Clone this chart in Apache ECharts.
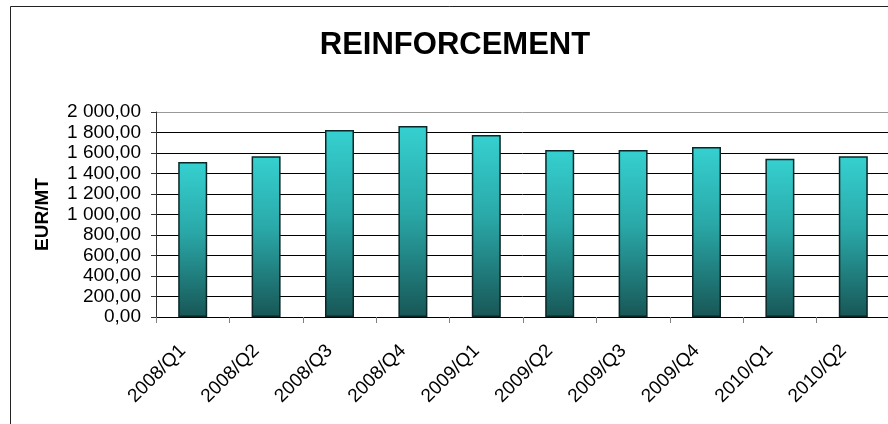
<!DOCTYPE html>
<html>
<head>
<meta charset="utf-8">
<script src="https://cdn.jsdelivr.net/npm/echarts@6/dist/echarts.min.js"></script>
<style>
  html, body { margin: 0; padding: 0; background: #fff; }
  #myChart { width: 888px; height: 424px; }
</style>
</head>
<body>
<div id="myChart"></div>
<script>
// data
var quarters = ['2008/Q1', '2008/Q2', '2008/Q3', '2008/Q4', '2009/Q1', '2009/Q2', '2009/Q3', '2009/Q4', '2010/Q1', '2010/Q2'];
var prices = [1512, 1568, 1824, 1863, 1776, 1629, 1629, 1659, 1545, 1568];
var yTicks = [0, 200, 400, 600, 800, 1000, 1200, 1400, 1600, 1800, 2000];

var font = '"Liberation Sans", Arial, sans-serif';

// 2 000,00 style
function fmt(v) {
  var s = v.toFixed(2).split('.');
  return s[0].replace(/\B(?=(\d{3})+(?!\d))/g, ' ') + ',' + s[1];
}

// top gridline is the grey plot border, the rest are black
var gridColors = yTicks.map(function (v, i) {
  return i === yTicks.length - 1 ? '#999999' : '#000000';
});

var myChart = echarts.init(document.getElementById('myChart'));
myChart.setOption({
  backgroundColor: '#ffffff',
  animation: false,
  title: {
    text: 'REINFORCEMENT',
    left: 455,
    top: 30,
    padding: 0,
    textAlign: 'center',
    textStyle: { fontFamily: font, fontSize: 31, fontWeight: 'bold', color: '#000' }
  },
  graphic: [{
    type: 'rect',
    shape: { x: 10.5, y: 6.5, width: 950, height: 500 },
    style: { fill: null, stroke: '#222', lineWidth: 1 },
    silent: true
  }],
  grid: {
    left: 156,
    top: 112,
    right: -2,
    bottom: 107,
    containLabel: false,
    outerBoundsMode: 'none'
  },
  xAxis: {
    type: 'category',
    data: quarters,
    axisLine: { lineStyle: { color: '#000', width: 1 } },
    axisTick: { show: true, length: 6, lineStyle: { color: '#808080' } },
    axisLabel: {
      rotate: 45,
      margin: 21,
      padding: [0, 14, 0, 0],
      interval: 0,
      fontFamily: font,
      fontSize: 19,
      color: '#000'
    }
  },
  yAxis: {
    type: 'value',
    min: yTicks[0],
    max: yTicks[yTicks.length - 1],
    interval: 200,
    name: 'EUR/MT',
    nameLocation: 'middle',
    nameGap: 104,
    nameTextStyle: { fontFamily: font, fontSize: 19, fontWeight: 'bold', color: '#000' },
    axisLine: { show: true, lineStyle: { color: '#333', width: 1 } },
    axisTick: { show: true, length: 5, lineStyle: { color: '#333' } },
    axisLabel: {
      margin: 15,
      fontFamily: font,
      fontSize: 19,
      color: '#000',
      formatter: fmt
    },
    splitLine: { show: true, lineStyle: { color: gridColors, width: 1 } }
  },
  series: [{
    type: 'bar',
    data: prices,
    barWidth: 29,
    itemStyle: {
      color: new echarts.graphic.LinearGradient(0, 0, 0, 1, [
        { offset: 0, color: '#36D0D0' },
        { offset: 0.45, color: '#2AA8A8' },
        { offset: 1, color: '#185656' }
      ]),
      borderColor: '#0B2626',
      borderWidth: 1.5
    }
  }]
});
</script>
</body>
</html>
